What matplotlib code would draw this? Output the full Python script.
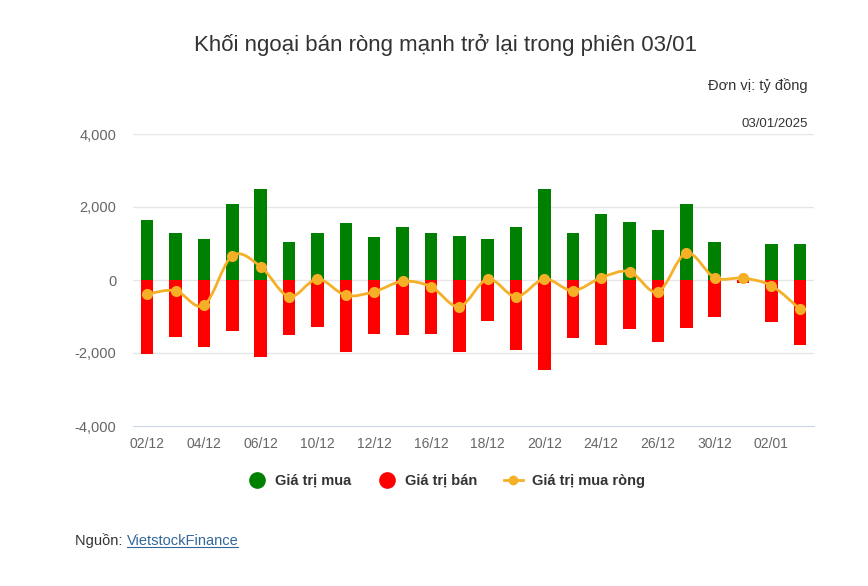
import numpy as np
import matplotlib
matplotlib.use("Agg")
from matplotlib import pyplot as plt
from matplotlib.path import Path
from matplotlib.patches import PathPatch
from matplotlib.lines import Line2D

plt.rcParams['font.family'] = ['Liberation Sans', 'DejaVu Sans']

dates = ["02/12", "03/12", "04/12", "05/12", "06/12", "09/12", "10/12", "11/12",
         "12/12", "13/12", "16/12", "17/12", "18/12", "19/12", "20/12", "23/12",
         "24/12", "25/12", "26/12", "27/12", "30/12", "31/12", "02/01", "03/01"]
buy = [1633, 1288, 1123, 2071, 2482, 1049, 1288, 1562, 1186, 1460, 1288, 1214,
       1113, 1460, 2482, 1288, 1798, 1598, 1360, 2071, 1049, 0, 975, 975]
sell = [-2038, -1553, -1827, -1408, -2101, -1516, -1279, -1964, -1479, -1516, -1479, -1964,
        -1115, -1928, -2476, -1589, -1790, -1352, -1690, -1315, -1005, -82, -1142, -1790]
net = [-384, -293, -695, 666, 365, -457, 27, -420, -320, -37, -183, -731,
       27, -457, 27, -293, 63, 228, -329, 740, 63, 50, -156, -795]

GREEN = "#008000"
RED = "#ff0000"
ORANGE = "#f5b027"
TXT = "#333333"
AX = "#666666"

fig = plt.figure(figsize=(8.68, 5.86), dpi=100)
ax = fig.add_axes([133 / 868, 1 - 426 / 586, 681 / 868, 292 / 586])

x = np.arange(len(dates))
ax.bar(x, buy, width=0.44, color=GREEN, zorder=2)
ax.bar(x, sell, width=0.44, color=RED, zorder=2)


def smooth_path(xs, ys, k=1 / 6):
    # catmull-rom style bezier through the points
    verts = [(xs[0], ys[0])]
    codes = [Path.MOVETO]
    n = len(xs)
    for i in range(n - 1):
        p0 = (xs[max(i - 1, 0)], ys[max(i - 1, 0)])
        p1 = (xs[i], ys[i])
        p2 = (xs[i + 1], ys[i + 1])
        p3 = (xs[min(i + 2, n - 1)], ys[min(i + 2, n - 1)])
        c1 = (p1[0] + (p2[0] - p0[0]) * k, p1[1] + (p2[1] - p0[1]) * k)
        c2 = (p2[0] - (p3[0] - p1[0]) * k, p2[1] - (p3[1] - p1[1]) * k)
        verts += [c1, c2, p2]
        codes += [Path.CURVE4] * 3
    return Path(verts, codes)


ax.add_patch(PathPatch(smooth_path(x, net), facecolor="none", edgecolor=ORANGE,
                       lw=2, zorder=3))
ax.plot(x, net, "o", color=ORANGE, ms=7, zorder=4)

ax.set_xlim(-0.5, len(dates) - 0.5)
ax.set_ylim(-4000, 4000)
ax.set_yticks([-4000, -2000, 0, 2000, 4000])
ax.set_yticklabels(["-4,000", "-2,000", "0", "2,000", "4,000"])
ax.set_xticks(x[::2])
ax.set_xticklabels(dates[::2])
ax.tick_params(axis="both", colors=AX, length=0)
ax.tick_params(axis="y", pad=12, labelsize=10.5)
ax.tick_params(axis="x", pad=8, labelsize=10)
for lab in ax.get_xticklabels() + ax.get_yticklabels():
    lab.set_color(AX)

for yv in [-2000, 0, 2000, 4000]:
    ax.axhline(yv, color="#e6e6e6", lw=1, zorder=1)
for s in ["top", "right", "left"]:
    ax.spines[s].set_visible(False)
ax.spines["bottom"].set_color("#ccd6eb")
ax.spines["bottom"].set_position(("data", -4000))

fig.text(445 / 868, 1 - 45 / 586, "Khối ngoại bán ròng mạnh trở lại trong phiên 03/01",
         ha="center", va="center", fontsize=16, color=TXT)
fig.text(808 / 868, 1 - 86 / 586, "Đơn vị: tỷ đồng", ha="right", va="center",
         fontsize=10.5, color=TXT)
fig.text(808 / 868, 1 - 124 / 586, "03/01/2025", ha="right", va="center",
         fontsize=9.5, color=TXT)

handles = [
    Line2D([], [], ls="none", marker="o", color=GREEN, ms=11),
    Line2D([], [], ls="none", marker="o", color=RED, ms=11),
    Line2D([], [], color=ORANGE, lw=2, marker="o", ms=6),
]
fig.legend(handles, ["Giá trị mua", "Giá trị bán", "Giá trị mua ròng"],
           loc="center", bbox_to_anchor=(446 / 868, 1 - 481 / 586), ncol=3,
           frameon=False, handlelength=1.3, handletextpad=0.6, columnspacing=1.8,
           prop={"weight": "bold", "size": 10.5}, labelcolor=TXT)

t1 = fig.text(75 / 868, 1 - 541 / 586, "Nguồn: ", ha="left", va="center",
              fontsize=10.5, color=TXT)
fig.canvas.draw()
r = fig.canvas.get_renderer()
bb = t1.get_window_extent(r)
t2 = fig.text(bb.x1 / 868, 1 - 541 / 586, "VietstockFinance", ha="left", va="center",
              fontsize=10.5, color="#336699")
fig.canvas.draw()
bb2 = t2.get_window_extent(r)
fig.add_artist(Line2D([bb2.x0 / 868, bb2.x1 / 868], [(bb2.y0 + 1) / 586] * 2,
                      color="#336699", lw=0.8))

fig.savefig("out.png", dpi=100, facecolor="white")
